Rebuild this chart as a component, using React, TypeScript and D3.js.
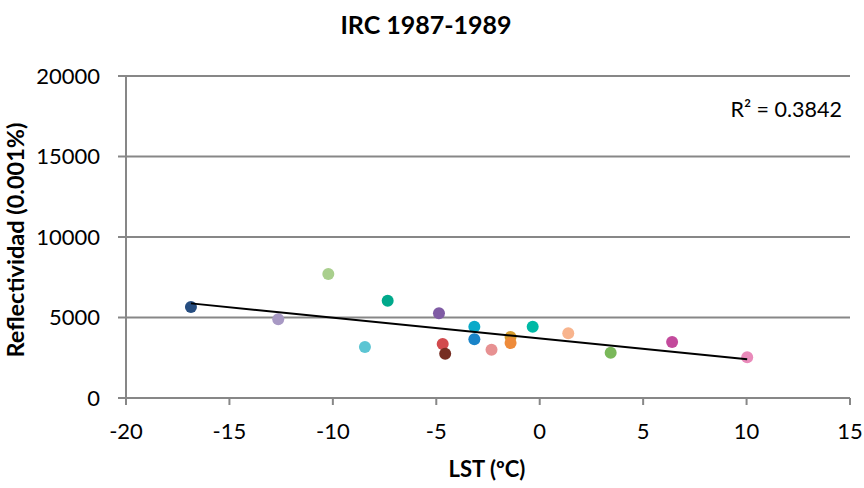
import React, { useEffect } from 'react';
import * as d3 from 'd3';

// LST (ºC) vs reflectividad (0.001%), one point per scene
const lst: number[] = [
  -16.86, -12.64, -10.22, -7.35, -8.45, -4.87, -4.69, -4.57, -3.16,
  -3.16, -2.33, -1.41, -1.41, -0.34, 1.38, 3.43, 6.4, 10.03,
];
const reflect: number[] = [
  5652, 4888, 7702, 6043, 3168, 5261, 3354, 2752, 4430,
  3644, 3002, 3789, 3416, 4430, 4017, 2816, 3478, 2526,
];
const pointColors: string[] = [
  '#264d80', '#a899c4', '#a9cf8d', '#00a98b', '#5cc5d3', '#7f5ba4', '#d24a4d', '#762d22', '#0aaac9',
  '#1a84c8', '#e79192', '#d59d30', '#ee8b3b', '#00b9a5', '#f8b48d', '#7ab85a', '#c34a9c', '#e98aba',
];
const xTicks = [-20, -15, -10, -5, 0, 5, 10, 15];
const yTicks = [0, 5000, 10000, 15000, 20000];
const r2Label = 'R² = 0.3842';

const W = 864;
const H = 488;
const FONT = 'Lato, "Open Sans", sans-serif';
const GRAY = '#878787';

const App: React.FC = () => {
  useEffect(() => {
    document.body.style.margin = '0';
  }, []);

  const x = d3.scaleLinear().domain([-20, 15]).range([126, 850]);
  const y = d3.scaleLinear().domain([0, 20000]).range([398, 76]);

  // least squares trendline, like Excel's linear trend
  const mx = d3.mean(lst) as number;
  const my = d3.mean(reflect) as number;
  let sxy = 0;
  let sxx = 0;
  lst.forEach((v, i) => {
    sxy += (v - mx) * (reflect[i] - my);
    sxx += (v - mx) * (v - mx);
  });
  const slope = sxy / sxx;
  const icpt = my - slope * mx;
  const xMin = d3.min(lst) as number;
  const xMax = d3.max(lst) as number;
  const trend = d3
    .line<number>()
    .x((d) => x(d))
    .y((d) => y(icpt + slope * d))([xMin, xMax]);

  return (
    <svg width={W} height={H} style={{ display: 'block', background: '#fff' }} fontFamily={FONT}>
      <text x={426} y={34} textAnchor="middle" fontSize={25} fontWeight="bold" fill="#000">
        IRC 1987-1989
      </text>

      {/* gridlines */}
      {yTicks.filter((t) => t > 0).map((t) => (
        <line key={t} x1={x(-20)} x2={x(15)} y1={y(t)} y2={y(t)} stroke={GRAY} strokeWidth={2} />
      ))}

      {/* axes */}
      <line x1={x(-20)} x2={x(-20)} y1={y(0)} y2={y(20000)} stroke={GRAY} strokeWidth={2} />
      <line x1={x(-20)} x2={x(15)} y1={y(0)} y2={y(0)} stroke={GRAY} strokeWidth={2} />

      {yTicks.map((t) => (
        <g key={t}>
          <line x1={x(-20) - 8} x2={x(-20)} y1={y(t)} y2={y(t)} stroke={GRAY} strokeWidth={2} />
          <text x={100} y={y(t)} dy="0.35em" textAnchor="end" fontSize={22} fill="#000">
            {t}
          </text>
        </g>
      ))}
      {xTicks.map((t) => (
        <g key={t}>
          <line x1={x(t)} x2={x(t)} y1={y(0)} y2={y(0) + 7} stroke={GRAY} strokeWidth={2} />
          <text x={x(t)} y={431} dy="0.35em" textAnchor="middle" fontSize={22} fill="#000">
            {t}
          </text>
        </g>
      ))}

      <text x={487} y={477} textAnchor="middle" fontSize={22} fontWeight="bold" fill="#000">
        LST (ºC)
      </text>
      <text
        transform={`translate(16,240) rotate(-90)`}
        dy="0.35em"
        textAnchor="middle"
        fontSize={23.5}
        fontWeight="bold"
        fill="#000"
      >
        Reflectividad (0.001%)
      </text>

      {/* points */}
      {lst.map((v, i) => (
        <ellipse key={i} cx={x(v)} cy={y(reflect[i])} rx={6} ry={6} fill={pointColors[i]} />
      ))}

      <path d={trend ?? ''} fill="none" stroke="#000" strokeWidth={2} />

      <text x={842} y={117} textAnchor="end" fontSize={21.5} fill="#000">
        {r2Label}
      </text>
    </svg>
  );
};

export default App;
